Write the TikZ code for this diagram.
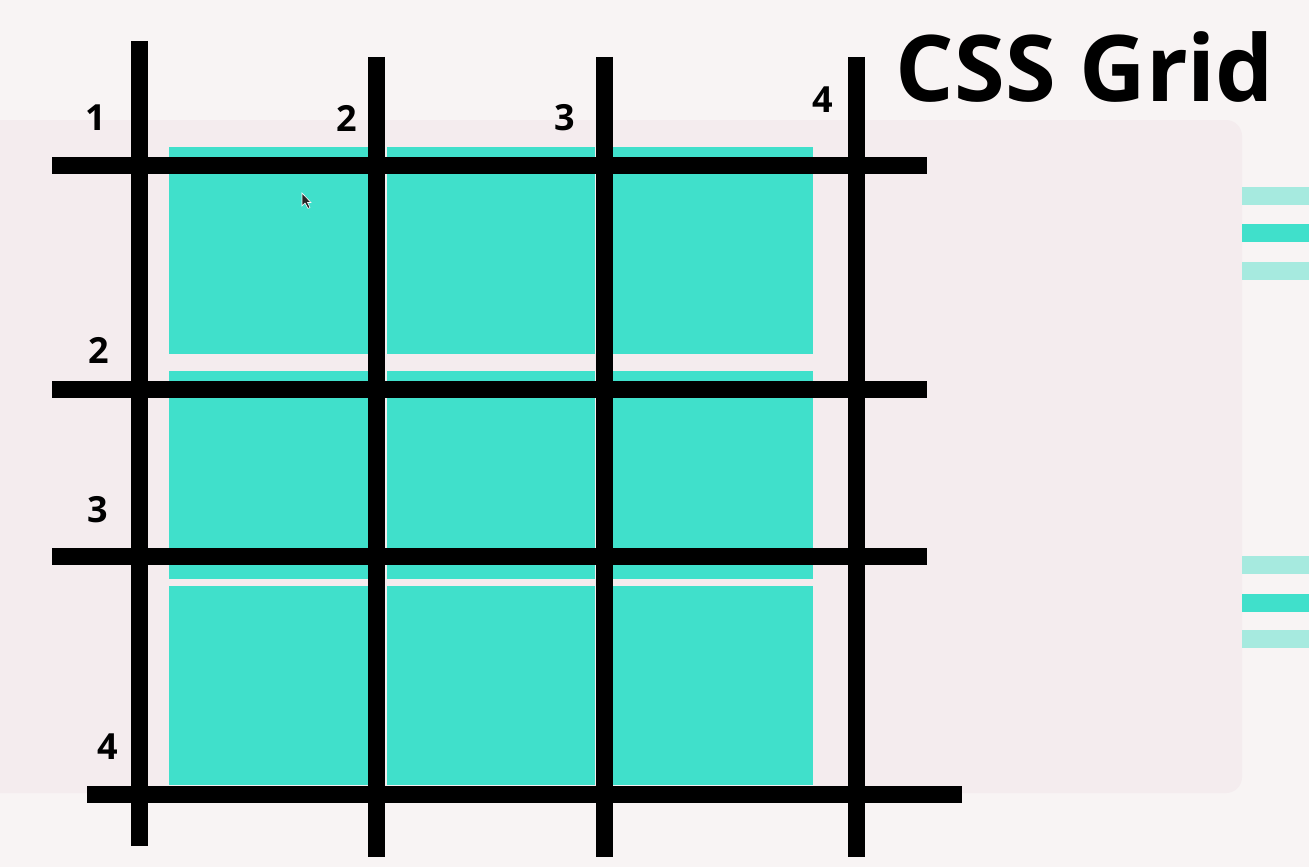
\documentclass[tikz,border=0pt]{standalone}
\usepackage{fontspec}
\setmainfont{Open Sans}
\definecolor{pagebg}{HTML}{F8F4F4}
\definecolor{panelbg}{HTML}{F4ECEE}
\definecolor{teal}{HTML}{40E0CB}
\definecolor{lightteal}{HTML}{A6EADF}
\begin{document}
\begin{tikzpicture}[x=1pt,y=-1pt,
  gridline/.style={line width=17pt,black,line cap=butt},
  cell/.style={fill=teal,draw=none},
  numlabel/.style={inner sep=0pt,font=\fontsize{36}{36}\selectfont\bfseries},
  strip/.style={draw=none}]
\useasboundingbox (0,0) rectangle (1309,867);
\fill[pagebg] (0,0) rectangle (1309,867);
% panel
\fill[panelbg,rounded corners=16pt] (-40,120) rectangle (1242,793);
% right strips
\fill[lightteal] (1241.5,187) rectangle (1309,204.5);
\fill[teal] (1241.5,224) rectangle (1309,242);
\fill[lightteal] (1241.5,262) rectangle (1309,280);
\fill[lightteal] (1241.5,556) rectangle (1309,574);
\fill[teal] (1241.5,593.5) rectangle (1309,611.5);
\fill[lightteal] (1241.5,630) rectangle (1309,648);
% cells
\foreach \ya/\yb in {147/353.5,371/578.5,586/785}{
  \fill[cell] (169,\ya) rectangle (368,\yb);
  \fill[cell] (387,\ya) rectangle (595,\yb);
  \fill[cell] (597,\ya) rectangle (813,\yb);
}
% grid lines
\draw[gridline] (139.5,41) -- (139.5,846);
\draw[gridline] (376.3,57) -- (376.3,857);
\draw[gridline] (604.3,57) -- (604.3,857);
\draw[gridline] (856.7,57) -- (856.7,857);
\draw[gridline] (52,165) -- (927,165);
\draw[gridline] (52,389) -- (927,389);
\draw[gridline] (52,556.7) -- (927,556.7);
\draw[gridline] (87,794) -- (962,794);
% labels
\node[numlabel] (c1) at (95.5,118) {1};
\node[numlabel] (c2) at (347,118) {2};
\node[numlabel] (c3) at (565,118) {3};
\node[numlabel] (c4) at (823,100) {4};
\node[numlabel] (r2) at (99,350) {2};
\node[numlabel] (r3) at (98,510) {3};
\node[numlabel] (r4) at (108,747) {4};
\node[inner sep=0pt,font=\fontsize{92}{92}\selectfont\bfseries] (title) at (1085,66.5) {CSS Grid};
% mouse cursor
\fill[black!85,draw=white,line width=0.6pt] (302,193) -- (302,206) -- (305,203) -- (308,208.5) -- (310,207.5) -- (307.5,202.5) -- (311,202.5) -- cycle;
\end{tikzpicture}
\end{document}
